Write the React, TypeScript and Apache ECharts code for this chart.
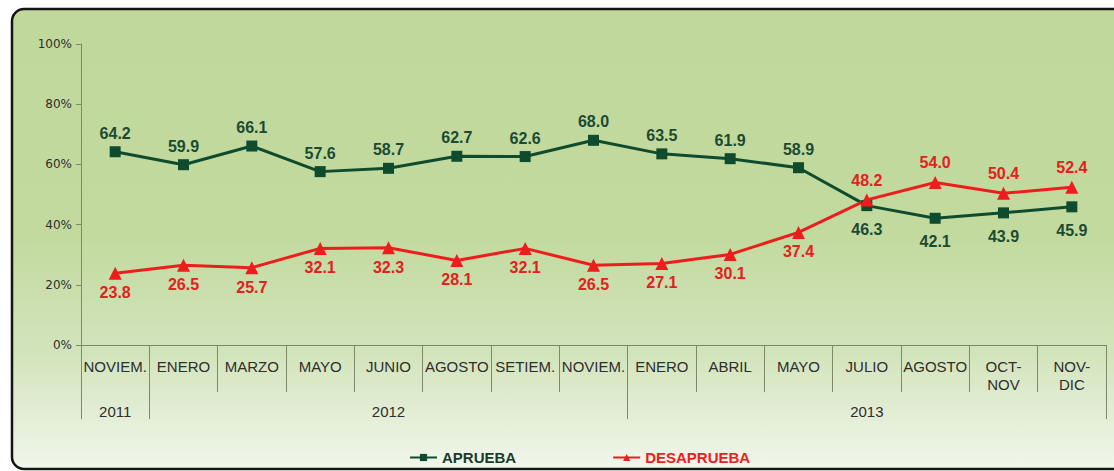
import React, { useEffect, useRef } from "react";
import * as echarts from "echarts";

const categories = ["NOVIEM.", "ENERO", "MARZO", "MAYO", "JUNIO", "AGOSTO", "SETIEM.", "NOVIEM.", "ENERO", "ABRIL", "MAYO", "JULIO", "AGOSTO", "OCT-\nNOV", "NOV-\nDIC"];
const yearLabels = ["2011", "", "", "", "2012", "", "", "", "", "", "", "2013", "", "", ""];
const yearBoundaries = [0, 1, 8];
const aprueba = [64.2, 59.9, 66.1, 57.6, 58.7, 62.7, 62.6, 68.0, 63.5, 61.9, 58.9, 46.3, 42.1, 43.9, 45.9];
const desaprueba = [23.8, 26.5, 25.7, 32.1, 32.3, 28.1, 32.1, 26.5, 27.1, 30.1, 37.4, 48.2, 54.0, 50.4, 52.4];
const flipFrom = 11;
const yTicks = { min: 0, max: 100, interval: 20 };

const GREEN = "#0f4c2e";
const RED = "#ee1d1d";
const AXIS = "#7c8a6a";
const FONT = "Arial, 'Liberation Sans', sans-serif";
const BORDER = "#151515";

export default function App() {
  const ref = useRef<HTMLDivElement>(null);
  useEffect(() => {
    document.body.style.margin = "0";
    if (!ref.current) return;
    const chart = echarts.init(ref.current, null, { renderer: "svg" });
    const aData = aprueba.map((v, i) =>
      i >= flipFrom ? { value: v, label: { position: "bottom", distance: 10 } } : v
    );
    const dData = desaprueba.map((v, i) =>
      i >= flipFrom ? { value: v, label: { position: "top", distance: 5 } } : v
    );
    const L = 12, T = 9, B = 469, R = 12, W = 1114;
    const borderStyle = { stroke: BORDER, lineWidth: 2.5, fill: null };
    chart.setOption({
      animation: false,
      graphic: [
        {
          type: "rect",
          z: -100,
          shape: { x: L, y: T, width: W - L, height: B - T, r: [R, 0, 0, R] },
          style: {
            fill: new echarts.graphic.LinearGradient(0, 0, 0, 1, [
              { offset: 0, color: "#c0d89b" },
              { offset: 0.5, color: "#c3da9f" },
              { offset: 0.75, color: "#d3e4bc" },
              { offset: 1, color: "#f1f6ec" },
            ]),
          },
        },
        { type: "line", z: -90, shape: { x1: L + R, y1: T, x2: W + 2, y2: T }, style: borderStyle },
        { type: "line", z: -90, shape: { x1: L + R, y1: B, x2: W + 2, y2: B }, style: borderStyle },
        { type: "line", z: -90, shape: { x1: L, y1: T + R, x2: L, y2: B - R }, style: borderStyle },
        { type: "arc", z: -90, shape: { cx: L + R, cy: T + R, r: R, startAngle: Math.PI, endAngle: Math.PI * 1.5 }, style: borderStyle },
        { type: "arc", z: -90, shape: { cx: L + R, cy: B - R, r: R, startAngle: Math.PI * 0.5, endAngle: Math.PI }, style: borderStyle },
      ],
      grid: { left: 81, right: 8, top: 44, bottom: 126, containLabel: false },
      legend: {
        left: 404,
        top: 445,
        itemWidth: 27,
        itemHeight: 9,
        itemGap: 96,
        textStyle: { fontFamily: FONT, fontWeight: "bold", fontSize: 15 },
        data: [
          { name: "APRUEBA", textStyle: { color: "#1d3b2a" } },
          { name: "DESAPRUEBA", textStyle: { color: RED } },
        ],
      },
      xAxis: [
        {
          type: "category",
          data: categories,
          boundaryGap: true,
          axisLine: { show: true, lineStyle: { color: AXIS, width: 1 } },
          axisTick: { show: true, interval: 0, length: 47, lineStyle: { color: AXIS, width: 1 } },
          axisLabel: {
            interval: 0,
            margin: 12,
            fontSize: 15,
            lineHeight: 18,
            color: "#2e2e2e",
            fontFamily: FONT,
          },
        },
        {
          type: "category",
          data: yearLabels,
          position: "bottom",
          offset: 47,
          boundaryGap: true,
          axisLine: { show: false },
          axisTick: {
            show: true,
            interval: (i: number) => yearBoundaries.indexOf(i) >= 0,
            length: 27,
            lineStyle: { color: AXIS, width: 1 },
          },
          axisLabel: { interval: 0, margin: 12, fontSize: 15, color: "#2e2e2e", fontFamily: FONT },
        },
      ],
      yAxis: {
        type: "value",
        min: yTicks.min,
        max: yTicks.max,
        interval: yTicks.interval,
        axisLine: { show: true, lineStyle: { color: AXIS, width: 1 } },
        axisTick: { show: true, length: 5, lineStyle: { color: AXIS } },
        splitLine: { show: false },
        axisLabel: {
          formatter: "{value}%",
          fontSize: 12,
          color: "#2e2e2e",
          margin: 9,
          fontFamily: "'DejaVu Sans', sans-serif",
        },
      },
      series: [
        {
          name: "APRUEBA",
          type: "line",
          data: aData,
          color: GREEN,
          symbol: "rect",
          symbolSize: 11,
          lineStyle: { width: 3, color: GREEN },
          itemStyle: { color: GREEN },
          label: {
            show: true,
            position: "top",
            distance: 5,
            fontSize: 16,
            fontWeight: "bold",
            color: "#1b4a33",
            fontFamily: FONT,
            formatter: (p: any) => Number(p.value).toFixed(1),
          },
        },
        {
          name: "DESAPRUEBA",
          type: "line",
          data: dData,
          color: RED,
          symbol: "triangle",
          symbolSize: 13,
          lineStyle: { width: 3, color: RED },
          itemStyle: { color: RED },
          label: {
            show: true,
            position: "bottom",
            distance: 5,
            fontSize: 16,
            fontWeight: "bold",
            color: "#e42020",
            fontFamily: FONT,
            formatter: (p: any) => Number(p.value).toFixed(1),
          },
        },
      ],
    });
    return () => chart.dispose();
  }, []);
  return <div ref={ref} style={{ width: 1114, height: 471 }} />;
}
